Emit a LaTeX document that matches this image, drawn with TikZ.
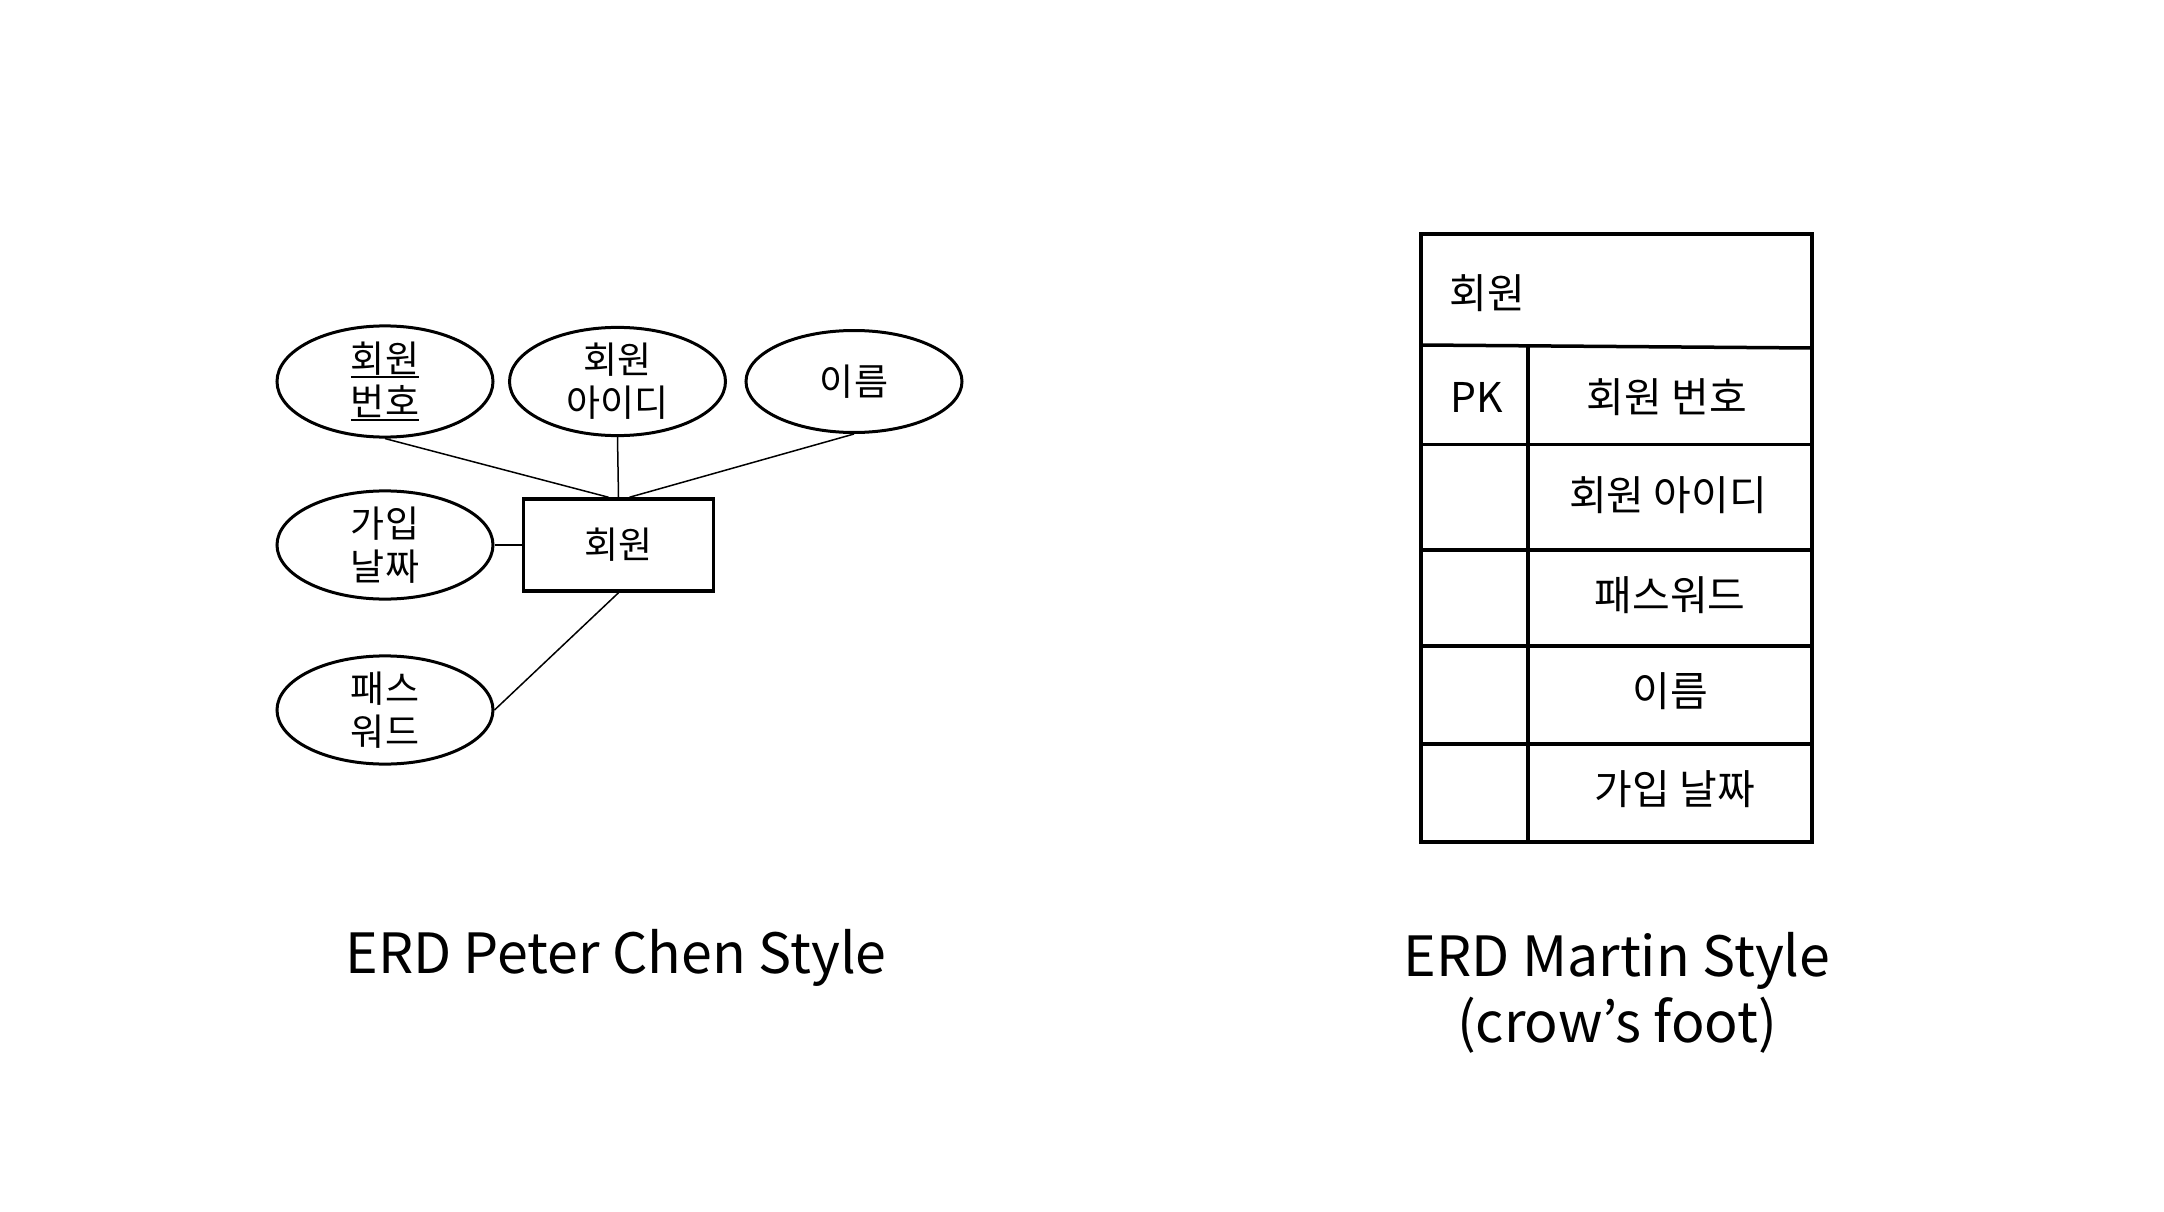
\documentclass[tikz,border=0pt]{standalone}
\usepackage{fontspec}
\setmainfont{Noto Sans CJK KR}
\usetikzlibrary{shapes.geometric,calc}
\newcommand\myul[1]{\setbox0\hbox{#1}\rlap{\box0}\setbox0\hbox{#1}\rule[-5pt]{\wd0}{1.6pt}}
\begin{document}
\begin{tikzpicture}[x=1pt,y=-1pt,
  attr/.style={ellipse, draw, line width=3pt, minimum width=216pt, minimum height=102pt, inner sep=0pt, align=center, font=\fontsize{37}{43}\selectfont},
  ent/.style={rectangle, draw, line width=3.5pt, minimum width=190pt, minimum height=92pt, inner sep=0pt, font=\fontsize{37}{43}\selectfont},
  conn/.style={line width=1.5pt},
  tline/.style={line width=3.5pt},
  cell/.style={inner sep=0pt, font=\fontsize{41}{46}\selectfont},
  captxt/.style={inner sep=0pt, align=center, font=\fontsize{55.5}{66}\selectfont}]
\useasboundingbox[fill=white] (0,0) rectangle (2164,1212);

% Peter Chen style
\node[attr] (e1) at (385,381.5) {\myul{회원}\\\myul{번호}};
\node[attr] (e2) at (617.5,381.5) {회원\\아이디};
\node[attr] (e3) at (854,381.5) {이름};
\node[attr] (e4) at (385,545) {가입\\날짜};
\node[attr] (e5) at (385,710) {패스\\워드};
\node[ent] (r) at (618.5,545) {회원};

\draw[conn] (e1.south) -- ($(r.north)+(-10,0)$);
\draw[conn] (e2.south) -- (r.north);
\draw[conn] (e3.south) -- ($(r.north)+(11,0)$);
\draw[conn] (e4.east) -- (r.west);
\draw[conn] (e5.east) -- (r.south);

% Martin style table
\draw[tline] (1421,234) rectangle (1812,842);
\draw[tline] (1421,345) -- (1812,348);
\draw[tline] (1421,444.5) -- (1812,444.5);
\draw[tline] (1421,550) -- (1812,550);
\draw[tline] (1421,646) -- (1812,646);
\draw[tline] (1421,744) -- (1812,744);
\draw[tline] (1528,346) -- (1528,842);

\node[cell] (th) at (1487,293) {회원};
\node[cell] (pk) at (1477,397) {PK};
\node[cell] (c1) at (1667,397) {회원 번호};
\node[cell] (c2) at (1668,495) {회원 아이디};
\node[cell] (c3) at (1670,595) {패스워드};
\node[cell] (c4) at (1670,691) {이름};
\node[cell] (c5) at (1675,789) {가입 날짜};

% captions
\node[captxt] (capl) at (616,958) {ERD Peter Chen Style};
\node[captxt] (capr) at (1617,993) {ERD Martin Style\\(crow’s foot)};
\end{tikzpicture}
\end{document}
